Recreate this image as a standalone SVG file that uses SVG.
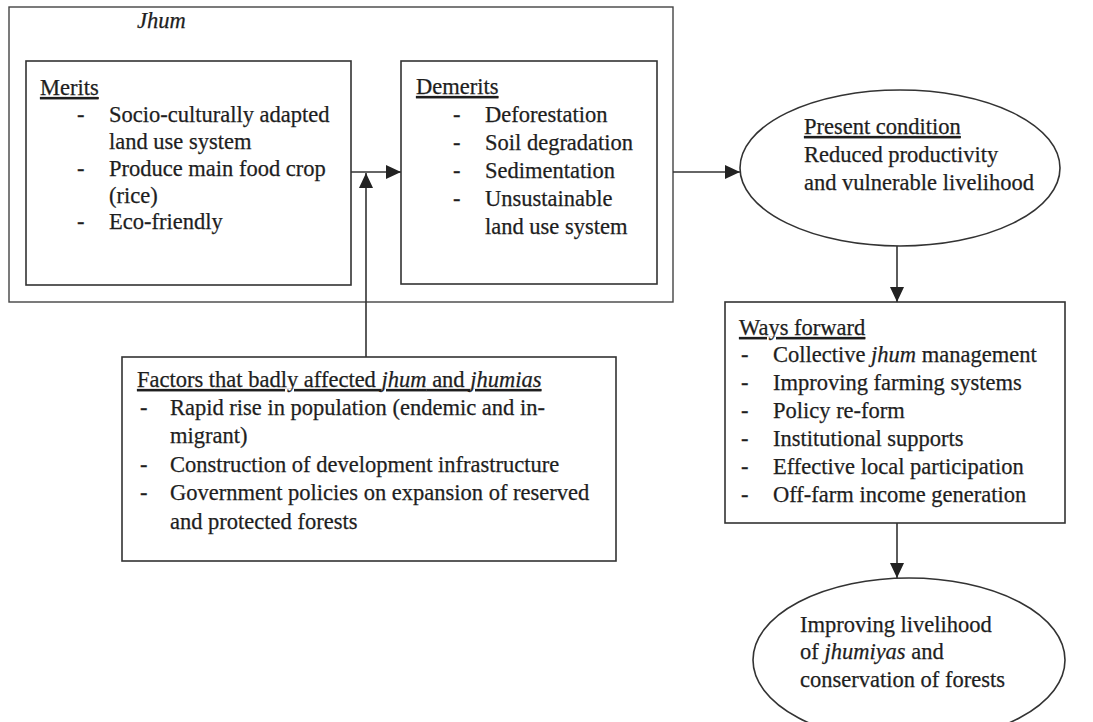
<svg xmlns="http://www.w3.org/2000/svg" width="1093" height="722" viewBox="0 0 1093 722">
  <style>
    .box { fill: #fff; stroke: #333; stroke-width: 1.6; }
    .outer { fill: #fff; stroke: #444; stroke-width: 1.4; }
    .t { font-family: "Liberation Serif", "Times New Roman", serif; font-size: 22.5px; fill: #1e1e1e; stroke: #1e1e1e; stroke-width: 0.25; }
    .u { text-decoration: underline; }
    .i { font-style: italic; }
    .edge { stroke: #333; stroke-width: 1.6; fill: none; }
  </style>
  <defs>
    <marker id="arrow" markerUnits="userSpaceOnUse" markerWidth="16" markerHeight="14" refX="15" refY="7" orient="auto">
      <path d="M0,0 L15,7 L0,14 z" fill="#222"/>
    </marker>
  </defs>
  <rect width="1093" height="722" fill="#fff"/>

  <!-- outer Jhum frame -->
  <g id="jhum">
    <rect class="outer" x="9" y="7" width="664" height="295"/>
    <text class="t i" x="137" y="28">Jhum</text>
  </g>

  <g id="merits">
    <rect class="box" x="26" y="61" width="325" height="224"/>
    <text class="t u" x="40" y="95">Merits</text>
    <text class="t" x="77" y="122">-</text>
    <text class="t" x="109" y="122">Socio-culturally adapted</text>
    <text class="t" x="109" y="149">land use system</text>
    <text class="t" x="77" y="176">-</text>
    <text class="t" x="109" y="176">Produce main food crop</text>
    <text class="t" x="109" y="203">(rice)</text>
    <text class="t" x="77" y="229">-</text>
    <text class="t" x="109" y="229">Eco-friendly</text>
  </g>

  <g id="demerits">
    <rect class="box" x="401" y="61" width="256" height="223"/>
    <text class="t u" x="416" y="94">Demerits</text>
    <text class="t" x="453" y="122">-</text>
    <text class="t" x="485" y="122">Deforestation</text>
    <text class="t" x="453" y="150">-</text>
    <text class="t" x="485" y="150">Soil degradation</text>
    <text class="t" x="453" y="178">-</text>
    <text class="t" x="485" y="178">Sedimentation</text>
    <text class="t" x="453" y="206">-</text>
    <text class="t" x="485" y="206">Unsustainable</text>
    <text class="t" x="485" y="234">land use system</text>
  </g>

  <g id="present">
    <ellipse class="box" cx="900" cy="168" rx="160" ry="78"/>
    <text class="t u" x="804" y="134">Present condition</text>
    <text class="t" x="804" y="162">Reduced productivity</text>
    <text class="t" x="804" y="190">and vulnerable livelihood</text>
  </g>

  <g id="factors">
    <rect class="box" x="122" y="357" width="494" height="204"/>
    <text class="t u" x="137" y="387">Factors that badly affected <tspan class="i">jhum</tspan> and <tspan class="i">jhumias</tspan></text>
    <text class="t" x="140" y="415">-</text>
    <text class="t" x="170" y="415">Rapid rise in population (endemic and in-</text>
    <text class="t" x="170" y="443">migrant)</text>
    <text class="t" x="140" y="472">-</text>
    <text class="t" x="170" y="472">Construction of development infrastructure</text>
    <text class="t" x="140" y="500">-</text>
    <text class="t" x="170" y="500">Government policies on expansion of reserved</text>
    <text class="t" x="170" y="529">and protected forests</text>
  </g>

  <g id="ways">
    <rect class="box" x="725" y="302" width="340" height="221"/>
    <text class="t u" x="739" y="335">Ways forward</text>
    <text class="t" x="741" y="362">-</text>
    <text class="t" x="773" y="362">Collective <tspan class="i">jhum</tspan> management</text>
    <text class="t" x="741" y="390">-</text>
    <text class="t" x="773" y="390">Improving farming systems</text>
    <text class="t" x="741" y="418">-</text>
    <text class="t" x="773" y="418">Policy re-form</text>
    <text class="t" x="741" y="446">-</text>
    <text class="t" x="773" y="446">Institutional supports</text>
    <text class="t" x="741" y="474">-</text>
    <text class="t" x="773" y="474">Effective local participation</text>
    <text class="t" x="741" y="502">-</text>
    <text class="t" x="773" y="502">Off-farm income generation</text>
  </g>

  <g id="outcome">
    <ellipse class="box" cx="909" cy="660" rx="156" ry="82"/>
    <text class="t" x="800" y="632">Improving livelihood</text>
    <text class="t" x="800" y="659">of <tspan class="i">jhumiyas</tspan> and</text>
    <text class="t" x="800" y="687">conservation of forests</text>
  </g>

  <!-- connectors -->
  <g id="connectors">
    <line class="edge" x1="351" y1="172" x2="401" y2="172" marker-end="url(#arrow)"/>
    <line class="edge" x1="366" y1="357" x2="366" y2="173" marker-end="url(#arrow)"/>
    <line class="edge" x1="673" y1="172" x2="740" y2="172" marker-end="url(#arrow)"/>
    <line class="edge" x1="897" y1="246" x2="897" y2="302" marker-end="url(#arrow)"/>
    <line class="edge" x1="897" y1="523" x2="897" y2="578" marker-end="url(#arrow)"/>
  </g>
</svg>
